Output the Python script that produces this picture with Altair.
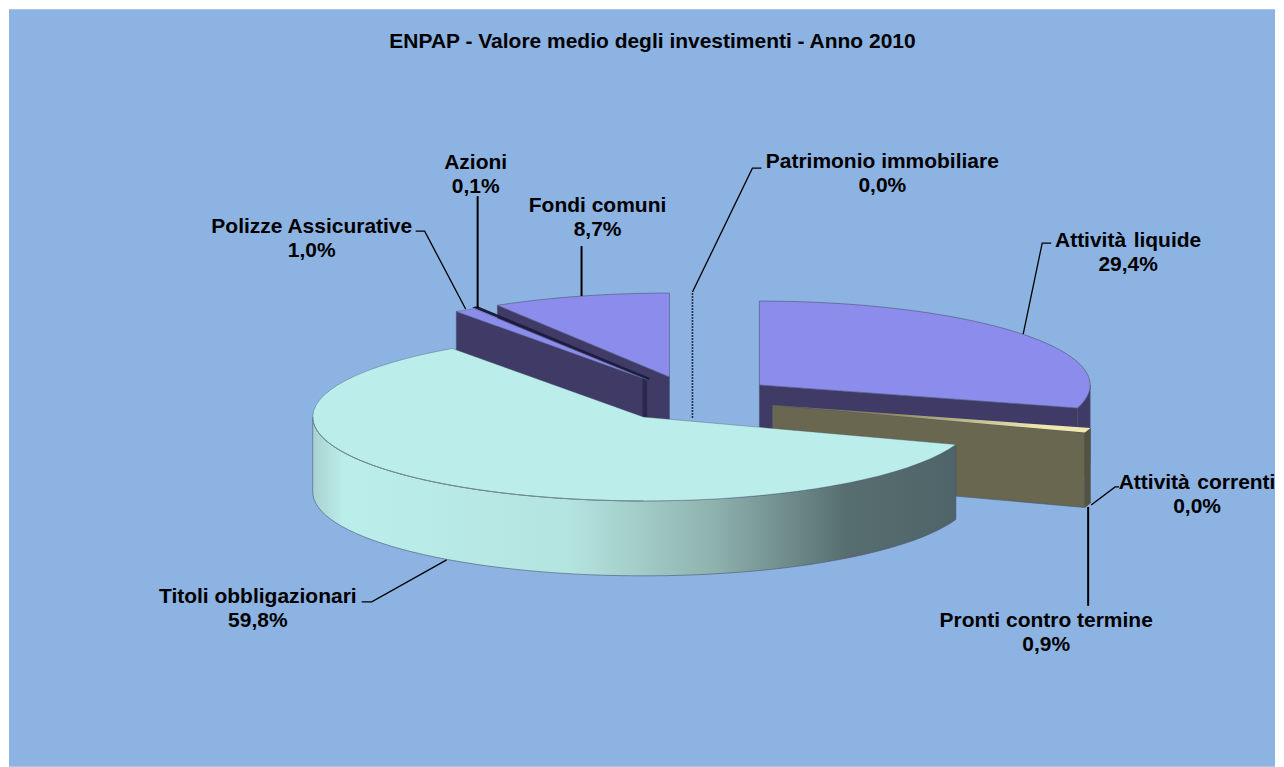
import math
import altair as alt
import pandas as pd

# ---- values
categories = ["Attività liquide", "Pronti contro termine", "Attività correnti",
              "Titoli obbligazionari", "Polizze Assicurative", "Azioni",
              "Fondi comuni", "Patrimonio immobiliare"]
shares = [29.4, 0.9, 0.0, 59.8, 1.0, 0.1, 8.7, 0.0]
share_labels = ["29,4%", "0,9%", "0,0%", "59,8%", "1,0%", "0,1%", "8,7%", "0,0%"]
title_text = "ENPAP - Valore medio degli investimenti - Anno 2010"

# ---- layout of the exploded pie (pixel space of the x/y scales)
apex = {"Attività liquide": (760, 385), "Pronti contro termine": (773, 405),
        "Attività correnti": (773, 405), "Titoli obbligazionari": (644, 417),
        "Polizze Assicurative": (648, 380), "Azioni": (650, 379),
        "Fondi comuni": (670, 377), "Patrimonio immobiliare": (693, 377)}
RX, RY, DEPTH = 331, 84, 75
label_pos = {"Attività liquide": (1129, 241), "Pronti contro termine": (1047, 621),
             "Attività correnti": (1198, 483), "Titoli obbligazionari": (258, 597),
             "Polizze Assicurative": (312, 227), "Azioni": (476, 163),
             "Fondi comuni": (598, 206), "Patrimonio immobiliare": (883, 162)}
leaders = {"Attività liquide": ([(1052, 243), (1043, 243), (1024, 334)], 1.3),
           "Pronti contro termine": ([(1089, 507), (1089, 606)], 2),
           "Attività correnti": ([(1120, 487), (1116, 487), (1092, 505)], 1.3),
           "Titoli obbligazionari": ([(362, 602), (372, 602), (447, 560)], 1.3),
           "Polizze Assicurative": ([(416, 231), (425, 231), (466, 309)], 1.3),
           "Azioni": ([(478, 196), (478, 308)], 2),
           "Fondi comuni": ([(582, 246), (582, 296)], 2),
           "Patrimonio immobiliare": ([(762, 168), (753, 168), (693, 292)], 1.3)}

BG = "#8DB3E2"
PURPLE = "#8C8CEC"
DARK = "#3F3A66"
DARKER = "#2A2750"
AZ = "#1D1B3E"
OLIVE = "#696750"
TEAL = "#BBEEEB"
EDGE = "#4A5570"

total = sum(shares)
span = {}
acc = 0.0
for c, s in zip(categories, shares):
    span[c] = (acc * 360 / total, (acc + s) * 360 / total)
    acc += s


def rim(cat, a0, a1, dy=0, n=60):
    cx, cy = apex[cat]
    out = []
    for k in range(n + 1):
        t = math.radians(a0 + (a1 - a0) * k / n)
        out.append((cx + RX * math.sin(t), cy - RY * math.cos(t) + dy))
    return out


def poly(pts, fill, stroke="transparent", sw=0.0, op=1.0):
    df = pd.DataFrame({"x": [p[0] for p in pts], "y": [p[1] for p in pts],
                       "i": list(range(len(pts)))})
    return alt.Chart(df).mark_line(interpolate="linear-closed", fill=fill, stroke=stroke,
                                   strokeWidth=sw, opacity=op).encode(
        x=X, y=Y, order=alt.Order("i:Q"))


def open_line(pts, color, sw, dash=None, op=1.0):
    df = pd.DataFrame({"x": [p[0] for p in pts], "y": [p[1] for p in pts],
                       "i": list(range(len(pts)))})
    kw = {"strokeDash": dash} if dash else {}
    return alt.Chart(df).mark_line(color=color, strokeWidth=sw, opacity=op, **kw).encode(
        x=X, y=Y, order=alt.Order("i:Q"))


def top(cat, fill, **kw):
    a0, a1 = span[cat]
    return poly([apex[cat]] + rim(cat, a0, a1), fill, **kw)


def cut(cat, angle, fill):
    cx, cy = apex[cat]
    e = rim(cat, angle, angle, n=1)[0]
    return poly([(cx, cy), e, (e[0], e[1] + DEPTH), (cx, cy + DEPTH)], fill, stroke=EDGE, sw=0.6, op=1)


def side(cat, a0, a1, fill):
    return poly(rim(cat, a0, a1) + rim(cat, a0, a1, DEPTH)[::-1], fill, stroke=EDGE, sw=0.6)


X = alt.X("x:Q", scale=alt.Scale(domain=[8, 1276], nice=False, zero=False), axis=None)
Y = alt.Y("y:Q", scale=alt.Scale(domain=[767, 8], nice=False, zero=False), axis=None)

L, P, C, T, Z, A, F, M = categories

teal_side = alt.LinearGradient(gradient="linear", x1=0, x2=1, y1=0, y2=0, stops=[
    alt.GradientStop(offset=0.0, color="#A9D2CF"),
    alt.GradientStop(offset=0.05, color="#BBEEEB"),
    alt.GradientStop(offset=0.40, color="#B4E4E0"),
    alt.GradientStop(offset=0.62, color="#8FB3AF"),
    alt.GradientStop(offset=0.83, color="#576E70"),
    alt.GradientStop(offset=1.0, color="#4F6468")])
olive_top = alt.LinearGradient(gradient="linear", x1=0, x2=1, y1=0, y2=0, stops=[
    alt.GradientStop(offset=0.0, color=OLIVE),
    alt.GradientStop(offset=0.35, color="#8A8762"),
    alt.GradientStop(offset=0.85, color="#F0E9AE"),
    alt.GradientStop(offset=1.0, color="#F0E9AE")])

bg = alt.Chart(pd.DataFrame({"x": [9], "x2": [1276], "y": [9], "y2": [767]})).mark_rect(
    color=BG).encode(x=X, x2="x2:Q", y=Y, y2="y2:Q")

layers = [bg]
# Attività liquide
layers += [cut(L, span[L][1], DARK), side(L, 90, span[L][1], DARK), top(L, PURPLE, stroke=EDGE, sw=0.6)]
# Pronti contro termine
layers += [cut(P, span[P][1], OLIVE), side(P, span[P][0], span[P][1], "#55533A"), top(P, olive_top)]
# Fondi comuni
layers += [cut(F, span[F][0], DARK), top(F, PURPLE, stroke=EDGE, sw=0.6)]
# Azioni
layers += [top(A, AZ, stroke=AZ, sw=2)]
# Polizze
az = apex[Z]
layers += [cut(Z, span[Z][0], DARK),
           poly([(az[0] - 5, az[1] - 2), az, (az[0], az[1] + DEPTH), (az[0] - 5, az[1] + DEPTH)], DARKER),
           top(Z, PURPLE, stroke=EDGE, sw=0.4)]
# Patrimonio immobiliare (0,0%): an edge-on slice
mx, my = apex[M]
layers += [open_line([(mx, my - RY), (mx, my + 41)], "#26304A", 1.6, dash=[2, 1])]
# Titoli obbligazionari
layers += [side(T, span[T][0], 270, teal_side), top(T, TEAL, stroke=EDGE, sw=0.4),
           open_line(rim(T, 180, 270), "#6F8E8E", 1.0)]
# leaders
for c in categories:
    pts, sw = leaders[c]
    layers.append(open_line(pts, "#000000", sw))

# labels
rows = []
for c, lab in zip(categories, share_labels):
    x0, y0 = label_pos[c]
    rows.append({"x": x0, "y": y0, "t": c.replace(" ", "\u00a0\u200a") if c in (L, C) else c})
    rows.append({"x": x0, "y": y0 + 24, "t": lab})
rows.append({"x": 653, "y": 42, "t": title_text})
text = alt.Chart(pd.DataFrame(rows)).mark_text(
    font="Liberation Sans", fontWeight="bold", fontSize=21, color="#000000", baseline="middle",
    align="center").encode(x=X, y=Y, text="t:N")
layers.append(text)

chart = alt.layer(*layers).properties(
    width=1268, height=759, padding=0, background="#FFFFFF",
).configure_view(stroke=None)
chart.save("out.html", embed_options={"renderer": "svg", "actions": False})
